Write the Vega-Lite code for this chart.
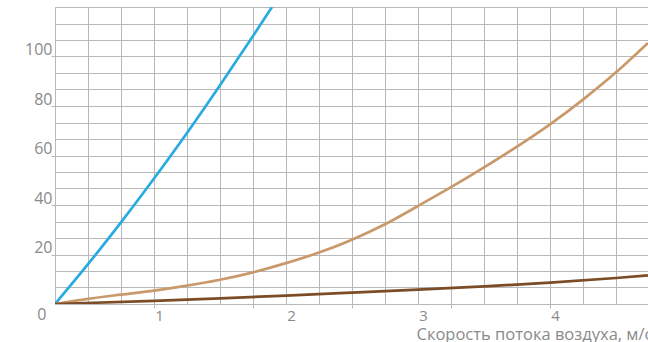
{
  "$schema": "https://vega.github.io/schema/vega-lite/v6.json",
  "width": 593,
  "height": 297,
  "autosize": {"type": "none"},
  "padding": {"left": 55, "top": 7, "right": 0, "bottom": 38},
  "background": "white",
  "config": {"view": {"stroke": null}, "font": "Open Sans"},
  "data": {
    "values": [
      {"s": "a", "v": 0.25, "p": 0},
      {"s": "a", "v": 0.5, "p": 16.1},
      {"s": "a", "v": 0.75, "p": 33.0},
      {"s": "a", "v": 1.0, "p": 50.7},
      {"s": "a", "v": 1.25, "p": 69.1},
      {"s": "a", "v": 1.5, "p": 88.4},
      {"s": "a", "v": 1.75, "p": 108.3},
      {"s": "a", "v": 1.894, "p": 120.0},
      {"s": "b", "v": 0.25, "p": 0},
      {"s": "b", "v": 0.5, "p": 2.1},
      {"s": "b", "v": 0.75, "p": 3.8},
      {"s": "b", "v": 1.0, "p": 5.4},
      {"s": "b", "v": 1.25, "p": 7.4},
      {"s": "b", "v": 1.5, "p": 9.8},
      {"s": "b", "v": 1.75, "p": 12.8},
      {"s": "b", "v": 2.0, "p": 16.5},
      {"s": "b", "v": 2.25, "p": 20.8},
      {"s": "b", "v": 2.5, "p": 26.0},
      {"s": "b", "v": 2.75, "p": 32.2},
      {"s": "b", "v": 3.0, "p": 39.6},
      {"s": "b", "v": 3.25, "p": 47.2},
      {"s": "b", "v": 3.5, "p": 55.2},
      {"s": "b", "v": 3.75, "p": 63.6},
      {"s": "b", "v": 4.0, "p": 72.6},
      {"s": "b", "v": 4.25, "p": 82.6},
      {"s": "b", "v": 4.5, "p": 93.6},
      {"s": "b", "v": 4.742, "p": 105.5},
      {"s": "c", "v": 0.25, "p": 0},
      {"s": "c", "v": 1.0, "p": 1.3},
      {"s": "c", "v": 1.5, "p": 2.3},
      {"s": "c", "v": 2.0, "p": 3.4},
      {"s": "c", "v": 2.5, "p": 4.6},
      {"s": "c", "v": 3.0, "p": 5.8},
      {"s": "c", "v": 3.5, "p": 7.1},
      {"s": "c", "v": 4.0, "p": 8.6},
      {"s": "c", "v": 4.5, "p": 10.5},
      {"s": "c", "v": 4.742, "p": 11.6}
    ]
  },
  "mark": {"type": "line", "interpolate": "monotone", "strokeWidth": 2.7, "clip": true},
  "encoding": {
    "x": {
      "field": "v",
      "type": "quantitative",
      "scale": {"domain": [0.25, 4.7424], "nice": false, "zero": false},
      "axis": {
        "values": [0.25, 0.5, 0.75, 1, 1.25, 1.5, 1.75, 2, 2.25, 2.5, 2.75, 3, 3.25, 3.5, 3.75, 4, 4.25, 4.5],
        "grid": true,
        "gridColor": "#b8b8b8",
        "gridWidth": 1,
        "domainColor": "#b8b8b8",
        "domainWidth": 1,
        "tickColor": "#b8b8b8",
        "tickSize": 4,
        "tickOpacity": {"condition": {"test": "(datum.value*4)%3==1 && datum.value>0.3", "value": 1}, "value": 0},
        "labelExpr": "datum.value % 1 == 0 ? format(datum.value, 'd') : ''",
        "labelOffset": 5,
        "labelPadding": 0,
        "labelFontSize": 15,
        "labelColor": "#8a8a8a",
        "labelFlush": false,
        "labelOverlap": false,
        "title": "Скорость потока воздуха, м/с",
        "titleX": 361,
        "titleY": 35,
        "titleAlign": "left",
        "titleBaseline": "alphabetic",
        "titleFontSize": 16.5,
        "titleFontWeight": "normal",
        "titleColor": "#8a8a8a"
      }
    },
    "y": {
      "field": "p",
      "type": "quantitative",
      "scale": {"domain": [0, 120], "nice": false},
      "axis": {
        "values": [0, 6.6667, 13.3333, 20, 26.6667, 33.3333, 40, 46.6667, 53.3333, 60, 66.6667, 73.3333, 80, 86.6667, 93.3333, 100, 106.6667, 113.3333, 120],
        "grid": true,
        "gridColor": "#b8b8b8",
        "gridWidth": 1,
        "domainColor": "#b8b8b8",
        "domainWidth": 1,
        "tickColor": "#b8b8b8",
        "tickSize": 4,
        "tickOpacity": {"condition": {"test": "datum.value % 20 == 0 && datum.value > 0 && datum.value < 110", "value": 1}, "value": 0},
        "labelExpr": "datum.value % 20 == 0 && datum.value < 110 ? format(datum.value, 'd') : ''",
        "labelBaseline": {"condition": {"test": "datum.value == 0", "value": "top"}, "value": "alphabetic"},
        "labelOffset": {"condition": {"test": "datum.value == 0", "value": 2}, "value": -2},
        "labelPadding": {"condition": {"test": "datum.value == 0", "value": 5}, "value": -1},
        "labelFontSize": 16,
        "labelColor": "#8a8a8a",
        "labelFlush": false,
        "labelOverlap": false,
        "title": null
      }
    },
    "color": {
      "field": "s",
      "type": "nominal",
      "scale": {"domain": ["a", "b", "c"], "range": ["#29abe2", "#c9996b", "#7b4c26"]},
      "legend": null
    }
  }
}
